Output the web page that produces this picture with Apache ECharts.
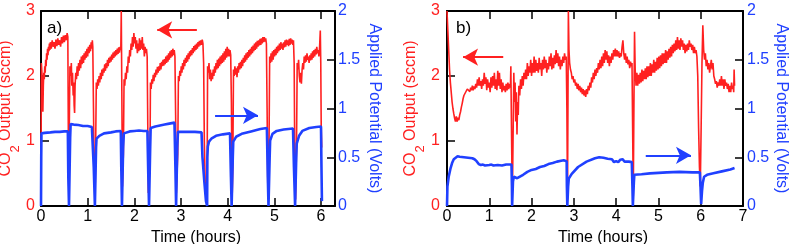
<!DOCTYPE html>
<html>
<head>
<meta charset="utf-8">
<script src="https://cdn.jsdelivr.net/npm/echarts@6/dist/echarts.min.js"></script>
<style>html,body{margin:0;padding:0;background:#fff}#c{width:790px;height:244px}</style>
</head>
<body>
<div id="c"></div>
<script>
// ---- Data (time in hours, CO2 in sccm, potential in volts) ----
const panelLabels = ['a)', 'b)'];
const leftName = 'CO2 Output (sccm)';
const rightName = 'Applied Potential (Volts)';
const xName = 'Time (hours)';

const redA = [
[0,0],[0.008,2.2],[0.02,2.05],[0.03,1.75],[0.04,1.45],[0.05,1.85],[0.06,2.05],[0.07,1.95],[0.08,2.15],[0.09,2.05],[0.1,2.25],[0.11,2.15],[0.12,2.35],[0.13,2.25],[0.14,2.42],[0.15,2.32],[0.16,2.45],[0.17,2.38],[0.18,2.5],[0.19,2.4],[0.2,2.52],[0.22,2.42],[0.24,2.55],[0.26,2.45],[0.28,2.52],[0.3,2.42],[0.32,2.56],[0.34,2.46],[0.36,2.58],[0.38,2.48],[0.4,2.55],[0.42,2.45],[0.44,2.6],[0.46,2.5],[0.48,2.62],[0.5,2.52],[0.52,2.63],[0.54,2.55],[0.56,2.66],[0.575,2.6],[0.585,1.2],[0.595,0.3],
[0.61,1.5],[0.62,2.15],[0.635,2.0],[0.65,2.2],[0.66,1.85],[0.675,2.05],[0.69,1.7],[0.70,1.9],[0.71,1.55],[0.72,1.43],[0.73,1.85],[0.745,2.05],[0.76,1.95],[0.775,2.15],[0.79,2.0],[0.805,2.2],[0.82,2.08],[0.835,2.25],[0.85,2.12],[0.865,2.3],[0.88,2.18],[0.895,2.32],[0.91,2.2],[0.925,2.35],[0.94,2.25],[0.955,2.38],[0.97,2.28],[0.985,2.42],[1.0,2.3],[1.015,2.45],[1.03,2.35],[1.045,2.48],[1.06,2.38],[1.075,2.52],[1.09,2.42],[1.1,2.55],[1.11,2.45],[1.125,1.5],[1.14,0.4],[1.16,0.2],
[1.175,1.2],[1.185,1.9],[1.2,1.8],[1.215,1.95],[1.23,1.85],[1.245,2.0],[1.26,1.9],[1.275,2.05],[1.29,1.95],[1.305,2.1],[1.32,2.0],[1.335,2.12],[1.35,2.05],[1.365,2.18],[1.38,2.08],[1.395,2.2],[1.41,2.12],[1.425,2.25],[1.44,2.15],[1.455,2.28],[1.47,2.2],[1.485,2.3],[1.5,2.22],[1.515,2.33],[1.53,2.25],[1.545,2.36],[1.56,2.28],[1.575,2.38],[1.59,2.3],[1.605,2.4],[1.62,2.32],[1.635,2.42],[1.65,2.34],[1.665,2.44],[1.68,2.36],[1.695,2.45],[1.71,2.4],[1.72,3.0],[1.73,2.0],[1.745,0.3],
[1.765,0.8],[1.78,1.95],[1.795,1.85],[1.81,2.05],[1.825,1.95],[1.84,2.15],[1.855,2.05],[1.87,2.3],[1.885,2.2],[1.9,2.4],[1.915,2.3],[1.93,2.5],[1.945,2.4],[1.96,2.6],[1.975,2.45],[1.99,2.66],[2.005,2.5],[2.02,2.6],[2.035,2.42],[2.05,2.55],[2.065,2.35],[2.08,2.5],[2.095,2.38],[2.11,2.58],[2.125,2.4],[2.14,2.55],[2.155,2.42],[2.17,2.6],[2.185,2.4],[2.2,2.5],[2.215,2.3],[2.23,2.45],[2.245,2.35],[2.26,2.42],[2.275,2.3],[2.285,1.5],[2.3,0.2],
[2.335,0.6],[2.345,1.9],[2.36,1.8],[2.375,1.95],[2.39,1.88],[2.405,2.02],[2.42,1.92],[2.435,2.05],[2.45,1.98],[2.465,2.1],[2.48,2.02],[2.495,2.14],[2.51,2.05],[2.525,2.15],[2.54,2.08],[2.555,2.2],[2.57,2.1],[2.585,2.22],[2.6,2.15],[2.615,2.25],[2.63,2.16],[2.645,2.26],[2.66,2.18],[2.675,2.3],[2.69,2.2],[2.705,2.32],[2.72,2.22],[2.735,2.35],[2.75,2.25],[2.765,2.38],[2.78,2.28],[2.795,2.4],[2.81,2.3],[2.825,2.42],[2.84,2.32],[2.855,2.4],[2.87,2.3],[2.885,1.4],[2.9,0.2],
[2.93,0.8],[2.945,2.0],[2.96,1.92],[2.975,2.08],[2.99,2.0],[3.005,2.15],[3.02,2.05],[3.035,2.2],[3.05,2.1],[3.065,2.25],[3.08,2.15],[3.095,2.28],[3.11,2.2],[3.125,2.32],[3.14,2.22],[3.155,2.35],[3.17,2.26],[3.185,2.38],[3.2,2.3],[3.215,2.4],[3.23,2.32],[3.245,2.43],[3.26,2.35],[3.275,2.46],[3.29,2.38],[3.305,2.48],[3.32,2.4],[3.335,2.5],[3.35,2.42],[3.365,2.52],[3.38,2.45],[3.395,2.54],[3.41,2.47],[3.425,2.55],[3.44,2.48],[3.455,2.56],[3.47,2.5],[3.485,2.2],[3.5,1.0],[3.52,0.3],[3.54,0.05],
[3.56,0.5],[3.57,2.15],[3.585,2.05],[3.6,2.2],[3.615,1.95],[3.63,2.1],[3.645,1.92],[3.66,2.05],[3.675,1.95],[3.69,2.1],[3.705,2.0],[3.72,2.15],[3.735,2.05],[3.75,2.2],[3.765,2.1],[3.78,2.25],[3.795,2.12],[3.81,2.27],[3.825,2.15],[3.84,2.3],[3.855,2.18],[3.87,2.32],[3.885,2.2],[3.9,2.35],[3.915,2.22],[3.93,2.38],[3.945,2.25],[3.96,2.42],[3.975,2.28],[3.99,2.45],[4.005,2.3],[4.02,2.42],[4.035,2.3],[4.05,2.4],[4.065,2.32],[4.08,1.6],[4.095,0.1],
[4.11,0.6],[4.125,2.1],[4.14,2.0],[4.155,2.15],[4.17,2.02],[4.185,2.12],[4.2,1.98],[4.215,2.15],[4.23,2.05],[4.245,2.2],[4.26,2.1],[4.275,2.22],[4.29,2.12],[4.305,2.25],[4.32,2.15],[4.335,2.28],[4.35,2.2],[4.365,2.32],[4.38,2.22],[4.395,2.35],[4.41,2.25],[4.425,2.37],[4.44,2.28],[4.455,2.4],[4.47,2.3],[4.485,2.42],[4.5,2.33],[4.515,2.45],[4.53,2.35],[4.545,2.47],[4.56,2.38],[4.575,2.5],[4.59,2.4],[4.605,2.52],[4.62,2.42],[4.635,2.54],[4.65,2.45],[4.665,2.55],[4.68,2.47],[4.695,2.57],[4.71,2.48],[4.725,2.58],[4.74,2.5],[4.755,2.6],[4.77,2.52],[4.785,2.6],[4.8,2.53],[4.815,2.58],[4.83,2.5],[4.845,1.5],[4.86,0.3],
[4.885,0.8],[4.9,2.3],[4.915,2.2],[4.93,2.35],[4.945,2.22],[4.96,2.38],[4.975,2.25],[4.99,2.4],[5.005,2.3],[5.02,2.42],[5.035,2.32],[5.05,2.45],[5.065,2.35],[5.08,2.47],[5.095,2.38],[5.11,2.5],[5.125,2.4],[5.14,2.52],[5.155,2.42],[5.17,2.5],[5.185,2.4],[5.2,2.52],[5.215,2.44],[5.23,2.55],[5.245,2.45],[5.26,2.56],[5.275,2.48],[5.29,2.55],[5.305,2.46],[5.32,2.57],[5.335,2.48],[5.35,2.58],[5.365,2.5],[5.38,2.56],[5.395,2.48],[5.41,2.55],[5.425,2.2],[5.44,0.5],[5.455,0.1],
[5.475,0.9],[5.49,2.2],[5.505,2.1],[5.52,2.25],[5.535,2.0],[5.55,1.9],[5.565,2.05],[5.58,1.88],[5.595,2.1],[5.61,2.2],[5.625,2.1],[5.64,2.3],[5.655,2.2],[5.67,2.32],[5.685,2.22],[5.7,2.35],[5.715,2.25],[5.73,2.3],[5.745,2.2],[5.76,2.32],[5.775,2.24],[5.79,2.35],[5.805,2.25],[5.82,2.38],[5.835,2.28],[5.85,2.4],[5.865,2.3],[5.88,2.42],[5.895,2.33],[5.91,2.45],[5.925,2.35],[5.94,2.4],[5.955,2.3],[5.97,2.45],[5.985,2.7],[5.995,2.2],[6.005,1.2],[6.015,0.9]
];

const blueA = [
[0,0],[0.005,0.5],[0.01,0.745],[0.03,0.755],[0.05,0.735],[0.08,0.75],[0.12,0.745],[0.2,0.755],[0.3,0.76],[0.4,0.76],[0.5,0.765],[0.575,0.765],[0.585,0.3],[0.6,0.0],[0.62,0.0],[0.625,0.7],[0.635,0.84],[0.7,0.835],[0.8,0.83],[0.9,0.82],[1.0,0.82],[1.09,0.81],[1.13,0.4],[1.155,0.0],[1.175,0.0],[1.18,0.6],[1.19,0.69],[1.25,0.72],[1.35,0.745],[1.5,0.755],[1.6,0.765],[1.71,0.77],[1.72,0.4],[1.735,0.0],[1.755,0.0],[1.76,0.6],[1.775,0.745],[1.9,0.765],[2.0,0.77],[2.1,0.775],[2.2,0.77],[2.28,0.77],[2.3,0.3],[2.315,0.0],[2.335,0.0],[2.34,0.6],[2.35,0.8],[2.45,0.815],[2.55,0.825],[2.65,0.835],[2.75,0.845],[2.86,0.855],[2.88,0.4],[2.895,0.0],[2.915,0.0],[2.92,0.6],[2.935,0.76],[3.1,0.76],[3.3,0.76],[3.44,0.755],[3.46,0.5],[3.5,0.25],[3.535,0.05],[3.56,0.0],[3.565,0.5],[3.575,0.61],[3.6,0.66],[3.65,0.69],[3.75,0.72],[3.9,0.735],[4.05,0.745],[4.07,0.3],[4.085,0.0],[4.105,0.0],[4.11,0.5],[4.12,0.66],[4.18,0.71],[4.3,0.74],[4.5,0.765],[4.7,0.79],[4.84,0.8],[4.86,0.3],[4.875,0.0],[4.895,0.0],[4.9,0.5],[4.91,0.67],[4.96,0.74],[5.05,0.77],[5.2,0.785],[5.4,0.795],[5.42,0.4],[5.445,0.0],[5.465,0.0],[5.47,0.5],[5.48,0.64],[5.53,0.72],[5.6,0.77],[5.75,0.8],[5.9,0.81],[6.0,0.815],[6.01,0.4],[6.02,0.05]
];

const redB = [
[0,3.0],[0.02,2.7],[0.04,2.4],[0.06,2.1],[0.08,1.9],[0.1,1.75],[0.12,1.6],[0.14,1.5],[0.16,1.42],[0.18,1.35],[0.2,1.3],[0.22,1.38],[0.24,1.3],[0.26,1.36],[0.28,1.32],[0.3,1.4],[0.32,1.45],[0.34,1.52],[0.36,1.58],[0.38,1.65],[0.4,1.7],[0.42,1.68],[0.44,1.75],[0.46,1.72],[0.48,1.8],[0.5,1.78],[0.52,1.82],[0.54,1.76],[0.56,1.82],[0.58,1.78],[0.6,1.85],[0.62,1.78],[0.64,1.84],[0.66,1.8],[0.68,1.88],[0.7,1.82],[0.72,1.95],[0.74,1.85],[0.76,1.98],[0.78,1.85],[0.8,1.92],[0.82,1.8],[0.84,1.95],[0.86,1.85],[0.88,2.05],[0.9,1.88],[0.92,1.98],[0.94,1.78],[0.96,1.95],[0.98,1.82],[1.0,1.9],[1.02,1.75],[1.04,1.98],[1.06,1.82],[1.08,2.0],[1.1,1.85],[1.12,2.05],[1.14,1.8],[1.16,1.95],[1.18,1.78],[1.2,2.08],[1.22,1.85],[1.24,2.05],[1.26,1.8],[1.28,1.95],[1.3,1.75],[1.32,1.9],[1.34,1.78],[1.36,1.85],[1.38,1.75],[1.4,1.88],[1.42,1.78],[1.44,1.9],[1.46,1.8],[1.48,1.88],[1.5,1.82],[1.51,2.15],[1.52,1.5],[1.535,0.6],[1.55,0.35],[1.565,1.2],[1.58,2.05],[1.595,1.6],[1.61,1.9],[1.625,1.3],[1.64,1.75],[1.655,1.1],[1.67,1.6],[1.685,1.4],[1.7,1.85],[1.72,1.7],[1.74,1.95],[1.76,1.8],[1.78,2.0],[1.8,1.85],[1.82,2.05],[1.84,1.95],[1.86,2.1],[1.88,1.95],[1.9,2.2],[1.92,2.0],[1.94,2.15],[1.96,2.05],[1.98,2.25],[2.0,2.0],[2.02,2.2],[2.04,2.05],[2.06,2.3],[2.08,2.05],[2.1,2.25],[2.12,2.08],[2.14,2.2],[2.16,2.05],[2.18,2.28],[2.2,2.1],[2.22,2.2],[2.24,2.0],[2.26,2.25],[2.28,2.1],[2.3,2.3],[2.32,2.12],[2.34,2.25],[2.36,2.05],[2.38,2.2],[2.4,2.1],[2.42,2.3],[2.44,2.15],[2.46,2.35],[2.48,2.1],[2.5,2.28],[2.52,2.12],[2.54,2.32],[2.56,2.18],[2.58,2.4],[2.6,2.2],[2.62,2.35],[2.64,2.15],[2.66,2.3],[2.68,2.1],[2.7,2.25],[2.72,2.15],[2.74,2.3],[2.76,2.2],[2.78,2.35],[2.8,2.25],[2.82,2.3],[2.835,1.5],[2.85,0.1],[2.86,1.5],[2.87,3.0],[2.885,2.4],[2.9,2.2],[2.92,2.1],[2.94,2.05],[2.96,1.95],[2.98,2.0],[3.0,1.9],[3.02,1.95],[3.04,1.85],[3.06,1.9],[3.08,1.8],[3.1,1.88],[3.12,1.78],[3.14,1.85],[3.16,1.75],[3.18,1.82],[3.2,1.72],[3.22,1.8],[3.24,1.7],[3.26,1.78],[3.28,1.68],[3.3,1.8],[3.32,1.72],[3.34,1.85],[3.36,1.78],[3.38,1.9],[3.4,1.82],[3.42,1.98],[3.44,1.9],[3.46,2.05],[3.48,1.95],[3.5,2.1],[3.52,2.0],[3.54,2.12],[3.56,2.05],[3.58,2.2],[3.6,2.1],[3.62,2.25],[3.64,2.12],[3.66,2.3],[3.68,2.15],[3.7,2.35],[3.72,2.2],[3.74,2.4],[3.76,2.25],[3.78,2.38],[3.8,2.2],[3.82,2.32],[3.84,2.15],[3.86,2.3],[3.88,2.2],[3.9,2.35],[3.92,2.25],[3.94,2.4],[3.96,2.3],[3.98,2.42],[4.0,2.3],[4.02,2.4],[4.04,2.3],[4.06,2.38],[4.08,2.28],[4.1,2.35],[4.12,2.3],[4.14,2.45],[4.16,2.55],[4.18,2.35],[4.2,2.25],[4.22,2.35],[4.24,2.2],[4.26,2.3],[4.28,2.18],[4.3,2.25],[4.32,2.12],[4.34,2.22],[4.36,2.15],[4.375,2.2],[4.39,1.2],[4.405,0.15],[4.42,1.5],[4.435,2.68],[4.45,2.1],[4.47,1.85],[4.49,2.05],[4.51,1.85],[4.53,2.02],[4.55,1.88],[4.57,2.05],[4.59,1.9],[4.61,2.1],[4.63,1.92],[4.65,2.08],[4.67,1.95],[4.69,2.12],[4.71,1.95],[4.73,2.15],[4.75,1.98],[4.77,2.15],[4.79,2.0],[4.81,2.2],[4.83,2.0],[4.85,2.18],[4.87,2.05],[4.89,2.25],[4.91,2.05],[4.93,2.22],[4.95,2.08],[4.97,2.28],[4.99,2.1],[5.01,2.3],[5.03,2.12],[5.05,2.32],[5.07,2.15],[5.09,2.35],[5.11,2.18],[5.13,2.35],[5.15,2.2],[5.17,2.4],[5.19,2.2],[5.21,2.38],[5.23,2.25],[5.25,2.42],[5.27,2.28],[5.29,2.45],[5.31,2.3],[5.33,2.48],[5.35,2.35],[5.37,2.5],[5.39,2.38],[5.41,2.55],[5.43,2.4],[5.45,2.6],[5.47,2.42],[5.49,2.55],[5.51,2.4],[5.53,2.58],[5.55,2.45],[5.57,2.55],[5.59,2.4],[5.61,2.5],[5.63,2.35],[5.65,2.48],[5.67,2.38],[5.69,2.5],[5.71,2.4],[5.73,2.55],[5.75,2.45],[5.77,2.5],[5.79,2.4],[5.81,2.48],[5.83,2.35],[5.85,2.45],[5.87,2.35],[5.89,2.4],[5.91,2.3],[5.93,2.0],[5.95,1.2],[5.97,0.6],[5.99,0.3],[6.01,1.2],[6.03,2.2],[6.05,2.78],[6.07,2.4],[6.09,2.25],[6.11,2.35],[6.13,2.15],[6.15,2.25],[6.17,2.1],[6.19,2.2],[6.21,2.05],[6.23,2.15],[6.25,2.25],[6.27,2.1],[6.29,2.2],[6.31,2.0],[6.33,1.95],[6.35,1.88],[6.37,1.92],[6.39,1.82],[6.41,1.9],[6.43,1.85],[6.45,1.95],[6.47,1.85],[6.49,2.0],[6.51,1.85],[6.53,1.95],[6.55,1.8],[6.57,1.95],[6.59,1.85],[6.61,1.9],[6.63,1.8],[6.65,1.88],[6.67,1.75],[6.69,1.85],[6.71,1.75],[6.73,1.9],[6.75,1.8],[6.77,1.85],[6.78,1.75],[6.79,2.1],[6.8,1.85]
];

const blueB = [
[0,0],[0.01,0.2],[0.04,0.3],[0.08,0.38],[0.12,0.44],[0.16,0.48],[0.2,0.5],[0.25,0.51],[0.3,0.505],[0.4,0.5],[0.5,0.495],[0.6,0.49],[0.65,0.48],[0.7,0.46],[0.75,0.43],[0.8,0.42],[0.85,0.425],[0.9,0.415],[1.0,0.42],[1.05,0.425],[1.1,0.415],[1.2,0.42],[1.3,0.415],[1.4,0.425],[1.525,0.425],[1.535,0.2],[1.54,0.0],[1.555,0.0],[1.56,0.25],[1.58,0.3],[1.62,0.3],[1.66,0.285],[1.7,0.29],[1.8,0.32],[1.9,0.35],[2.0,0.37],[2.1,0.38],[2.2,0.4],[2.3,0.41],[2.4,0.43],[2.5,0.44],[2.6,0.455],[2.7,0.465],[2.76,0.47],[2.8,0.46],[2.83,0.46],[2.835,0.2],[2.845,0.0],[2.86,0.0],[2.865,0.2],[2.88,0.28],[2.95,0.33],[3.1,0.4],[3.3,0.455],[3.5,0.49],[3.6,0.5],[3.7,0.495],[3.8,0.485],[3.9,0.48],[3.95,0.45],[4.0,0.46],[4.05,0.45],[4.1,0.475],[4.15,0.48],[4.2,0.455],[4.3,0.455],[4.37,0.45],[4.385,0.2],[4.395,0.0],[4.415,0.0],[4.42,0.25],[4.43,0.32],[4.6,0.325],[4.8,0.335],[5.0,0.34],[5.2,0.345],[5.5,0.35],[5.8,0.345],[5.98,0.345],[5.995,0.2],[6.01,0.02],[6.03,0.15],[6.05,0.24],[6.08,0.3],[6.15,0.32],[6.3,0.335],[6.5,0.355],[6.7,0.375],[6.8,0.39]
];

// annotation arrows: [startPoint, endPoint] in data units (hours, axis value)
const redArrowA = [[3.34, 2.71], [2.49, 2.71]];
const blueArrowA = [[3.73, 0.93], [4.65, 0.93]];
const redArrowB = [[1.33, 2.29], [0.38, 2.29]];
const blueArrowB = [[4.70, 0.52], [5.77, 0.52]];

const xMaxA = 6.3, xMaxB = 7;

// ---- Styles ----
const RED = '#ff2020', BLUE = '#2040ff', FONT = 'Liberation Sans, Arial, sans-serif';

function xAxes(grid, max, shift) {
  return [
    { gridIndex: grid, type: 'value', min: 0, max: max, interval: 1, position: 'bottom',
      name: xName, nameLocation: 'middle', nameGap: 16,
      nameTextStyle: { color: '#000', fontSize: 16, fontFamily: FONT, padding: [0, 0, 0, shift] },
      axisLine: { onZero: false, lineStyle: { color: '#000', width: 2 } },
      axisTick: { inside: true, length: 8, lineStyle: { color: '#000', width: 1.5 } },
      axisLabel: { color: '#000', fontSize: 16, fontFamily: FONT, margin: 3, showMaxLabel: max === Math.round(max) },
      splitLine: { show: false } },
    { gridIndex: grid, type: 'value', min: 0, max: max, interval: 1, position: 'top',
      axisLine: { onZero: false, lineStyle: { color: '#000', width: 2 } },
      axisTick: { inside: true, length: 8, lineStyle: { color: '#000', width: 1.5 } },
      axisLabel: { show: false }, splitLine: { show: false } }
  ];
}
function yAxes(grid, leftGap, rightGap, rightMargin, leftMargin) {
  return [
    { gridIndex: grid, type: 'value', min: 0, max: 3, interval: 1, position: 'left',
      name: '{n|CO}{s|2}{n| Output (sccm)}', nameLocation: 'middle', nameGap: leftGap, nameRotate: 90,
      nameTextStyle: { color: RED, fontSize: 16, fontFamily: FONT,
        rich: { n: { color: RED, fontSize: 16, fontFamily: FONT },
                s: { color: RED, fontSize: 13, fontFamily: FONT, verticalAlign: 'bottom', padding: [20, 0, 0, 0] } } },
      axisLine: { onZero: false, lineStyle: { color: '#000', width: 2 } },
      axisTick: { inside: true, length: 8, lineStyle: { color: '#000', width: 1.5 } },
      axisLabel: { color: RED, fontSize: 16, fontFamily: FONT, margin: leftMargin },
      splitLine: { show: false } },
    { gridIndex: grid, type: 'value', min: 0, max: 2, interval: 0.5, position: 'right',
      name: rightName, nameLocation: 'middle', nameGap: rightGap, nameRotate: -90,
      nameTextStyle: { color: BLUE, fontSize: 16, fontFamily: FONT },
      axisLine: { onZero: false, lineStyle: { color: '#000', width: 2 } },
      axisTick: { inside: true, length: 8, lineStyle: { color: '#000', width: 1.5 } },
      axisLabel: { color: BLUE, fontSize: 16, fontFamily: FONT, margin: rightMargin },
      splitLine: { show: false } }
  ];
}
function arrow(pts, color) {
  return { silent: true, symbol: ['none', 'arrow'], symbolSize: [13, 15], animation: false,
    label: { show: false }, lineStyle: { color: color, width: 2, type: 'solid' },
    data: [[{ coord: pts[0] }, { coord: pts[1] }]] };
}

const chart = echarts.init(document.getElementById('c'), null, { renderer: 'canvas' });
chart.setOption({
  animation: false,
  backgroundColor: '#fff',
  title: [
    { text: panelLabels[0], left: 42, top: 15, textStyle: { fontSize: 17, fontWeight: 'normal', color: '#000', fontFamily: FONT } },
    { text: panelLabels[1], left: 451, top: 15, textStyle: { fontSize: 17, fontWeight: 'normal', color: '#000', fontFamily: FONT } }
  ],
  grid: [
    { left: 41, top: 11, width: 294, height: 195, containLabel: false, outerBoundsMode: 'none' },
    { left: 447, top: 11, width: 296, height: 195, containLabel: false, outerBoundsMode: 'none' }
  ],
  xAxis: [...xAxes(0, xMaxA, 16), ...xAxes(1, xMaxB, 16)],
  yAxis: [...yAxes(0, 14, 31, 3, 6), ...yAxes(1, 16, 30, 4, 7)],
  series: [
    { type: 'line', xAxisIndex: 0, yAxisIndex: 0, data: redA, showSymbol: false, symbol: 'none',
      lineStyle: { color: RED, width: 1.6 }, markLine: arrow(redArrowA, RED) },
    { type: 'line', xAxisIndex: 0, yAxisIndex: 1, data: blueA, showSymbol: false, symbol: 'none',
      lineStyle: { color: BLUE, width: 2.6 }, markLine: arrow(blueArrowA, BLUE) },
    { type: 'line', xAxisIndex: 2, yAxisIndex: 2, data: redB, showSymbol: false, symbol: 'none',
      lineStyle: { color: RED, width: 1.6 }, markLine: arrow(redArrowB, RED) },
    { type: 'line', xAxisIndex: 2, yAxisIndex: 3, data: blueB, showSymbol: false, symbol: 'none',
      lineStyle: { color: BLUE, width: 2.6 }, markLine: arrow(blueArrowB, BLUE) }
  ]
});
</script>
</body>
</html>
